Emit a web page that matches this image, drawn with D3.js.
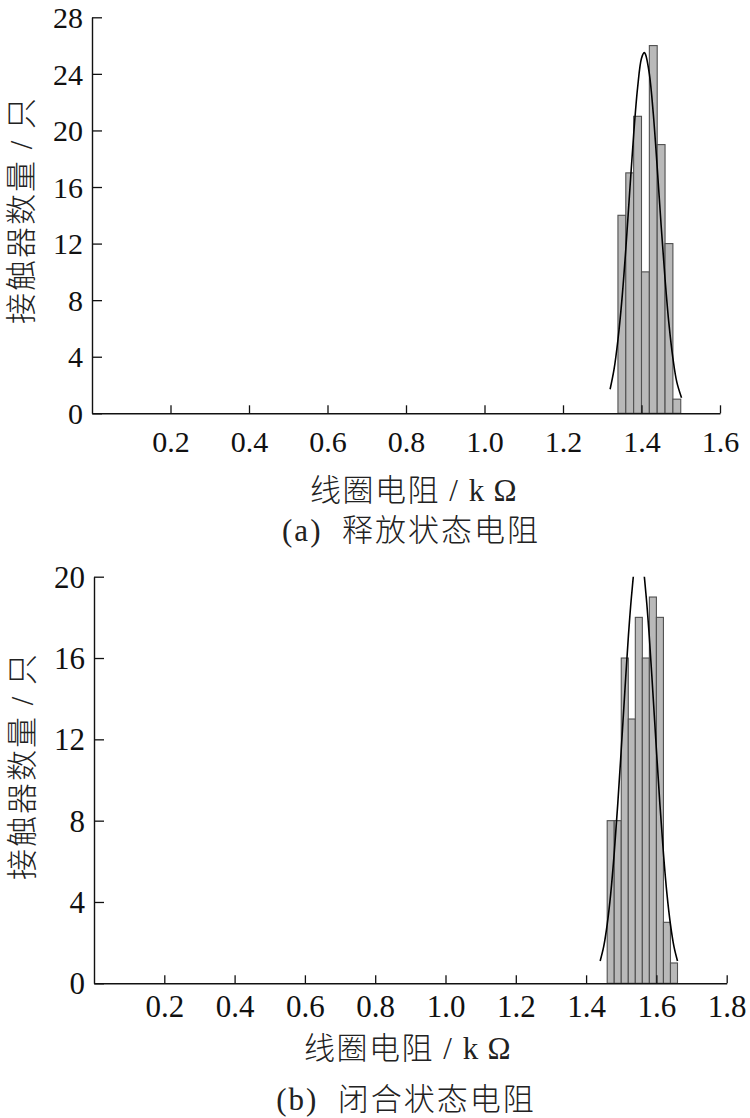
<!DOCTYPE html>
<html>
<head>
<meta charset="utf-8">
<script src="https://cdn.jsdelivr.net/npm/d3@7"></script>
<style>
  body { margin: 0; background: #fff; }
  svg { display: block; }
</style>
</head>
<body>
<svg id="chart" width="750" height="1118"></svg>
<script>
// ---------------- DATA ----------------
// (a) release-state resistance histogram
const binEdgesA = [1.34, 1.36, 1.38, 1.40, 1.42, 1.44, 1.46, 1.48, 1.50];
const countsA   = [14, 17, 21, 10, 26, 19, 12, 1];
const fitXA = [1.32, 1.33, 1.34, 1.35, 1.36, 1.37, 1.38, 1.39, 1.40, 1.407, 1.41, 1.42, 1.43, 1.44, 1.45, 1.46, 1.47, 1.48, 1.49, 1.502];
const fitYA = [1.7, 3.1, 5.2, 8.0, 11.6, 15.7, 19.7, 23.0, 25.1, 25.5, 25.4, 24.0, 21.2, 17.4, 13.3, 9.5, 6.3, 3.9, 2.2, 1.1];
const xTicksA = [0.2, 0.4, 0.6, 0.8, 1.0, 1.2, 1.4, 1.6];
const yTicksA = [0, 4, 8, 12, 16, 20, 24, 28];

// (b) closed-state resistance histogram
const binEdgesB = [1.46, 1.48, 1.50, 1.52, 1.54, 1.56, 1.58, 1.60, 1.62, 1.64, 1.66];
const countsB   = [8, 8, 16, 13, 18, 16, 19, 18, 3, 1];
const fitXB = [1.44, 1.45, 1.46, 1.47, 1.48, 1.49, 1.50, 1.51, 1.52, 1.53, 1.54, 1.55, 1.56, 1.57, 1.58, 1.59, 1.60, 1.61, 1.62, 1.63, 1.64, 1.65, 1.66];
const fitYB = [1.1, 1.8, 2.9, 4.4, 6.4, 8.8, 11.5, 14.3, 17.0, 19.2, 20.7, 21.2, 20.7, 19.2, 17.0, 14.3, 11.5, 8.8, 6.4, 4.4, 2.9, 1.8, 1.1];
const xTicksB = [0.2, 0.4, 0.6, 0.8, 1.0, 1.2, 1.4, 1.6, 1.8];
const yTicksB = [0, 4, 8, 12, 16, 20];

const yLabel = "接触器数量 / 只";
const xLabel = "线圈电阻 / k\u2009Ω";
const captionA = "(a)  释放状态电阻";
const captionB = "(b)  闭合状态电阻";

// ---------------- LAYOUT ----------------
const svg = d3.select("#chart");
svg.append("rect").attr("width", 750).attr("height", 1118).attr("fill", "#fff");

const FONT = "'Liberation Serif','Times New Roman','Noto Sans CJK SC',serif";
const CJK = "'Liberation Serif','Noto Sans CJK SC',sans-serif";

function panel(cfg) {
  const x = d3.scaleLinear().domain(cfg.xDomain).range([cfg.left, cfg.right]);
  const y = d3.scaleLinear().domain(cfg.yDomain).range([cfg.bottom, cfg.top]);
  const g = svg.append("g");

  const clipId = "clip" + cfg.id;
  g.append("clipPath").attr("id", clipId)
    .append("rect")
    .attr("x", cfg.left).attr("y", cfg.top)
    .attr("width", cfg.right - cfg.left + 20)
    .attr("height", cfg.bottom - cfg.top);

  // bars
  const bins = cfg.counts.map((c, i) => ({x0: cfg.edges[i], x1: cfg.edges[i + 1], c}));
  g.append("g").selectAll("rect").data(bins).join("rect")
    .attr("x", d => x(d.x0))
    .attr("y", d => y(d.c))
    .attr("width", d => x(d.x1) - x(d.x0))
    .attr("height", d => y(0) - y(d.c))
    .attr("fill", "#b9b9b9")
    .attr("stroke", "#505050")
    .attr("stroke-width", 1.1);

  // fitted curve
  const pts = cfg.fitX.map((v, i) => [v, cfg.fitY[i]]);
  g.append("path")
    .attr("clip-path", `url(#${clipId})`)
    .attr("d", d3.line().x(d => x(d[0])).y(d => y(d[1])).curve(d3.curveCatmullRom)(pts))
    .attr("fill", "none")
    .attr("stroke", "#000")
    .attr("stroke-width", 1.6);

  // x axis
  const xa = g.append("g").attr("transform", `translate(0,${cfg.bottom})`)
    .call(d3.axisBottom(x).tickValues(cfg.xTicks).tickSizeInner(-8).tickSizeOuter(0)
      .tickFormat(d3.format(".1f")));
  xa.select(".domain").attr("stroke", "#111").attr("stroke-width", 1.4);
  xa.selectAll(".tick line").attr("stroke", "#111").attr("stroke-width", 1.3);
  xa.selectAll(".tick text")
    .attr("y", cfg.xLabelOffset).attr("dy", 0)
    .attr("fill", "#111")
    .style("font-family", FONT).style("font-size", cfg.tickFont + "px");

  // y axis
  const ya = g.append("g").attr("transform", `translate(${cfg.left},0)`)
    .call(d3.axisLeft(y).tickValues(cfg.yTicks).tickSizeInner(-10).tickSizeOuter(0).tickPadding(9));
  ya.select(".domain").attr("stroke", "#111").attr("stroke-width", 1.4);
  ya.selectAll(".tick line").attr("stroke", "#111").attr("stroke-width", 1.3);
  ya.selectAll(".tick text")
    .attr("x", -9).attr("dy", "0.34em")
    .attr("fill", "#111")
    .style("font-family", FONT).style("font-size", cfg.tickFont + "px");

  // y label
  g.append("text")
    .attr("transform", `translate(${cfg.yLabelX},${cfg.yLabelY}) rotate(-90)`)
    .attr("text-anchor", "middle")
    .attr("dominant-baseline", "central")
    .attr("fill", "#222")
    .style("font-family", CJK).style("font-size", "31px")
    .style("font-weight", 300)
    .style("letter-spacing", "2px")
    .text(yLabel);

  // x label
  g.append("text")
    .attr("x", cfg.xTitleX).attr("y", cfg.xTitleY)
    .attr("text-anchor", "middle")
    .attr("fill", "#222")
    .style("font-family", CJK).style("font-size", "31px")
    .style("font-weight", 300)
    .style("letter-spacing", "1.5px")
    .style("white-space", "pre")
    .text(xLabel);

  // caption
  g.append("text")
    .attr("x", cfg.capX).attr("y", cfg.capY)
    .attr("text-anchor", "middle")
    .attr("fill", "#222")
    .style("font-family", CJK).style("font-size", "31px")
    .style("font-weight", 300)
    .style("letter-spacing", "2px")
    .style("white-space", "pre")
    .text(cfg.caption);
}

panel({
  id: "a",
  xDomain: [0, 1.6], yDomain: [0, 28],
  left: 92, right: 720, top: 17.3, bottom: 413.3,
  edges: binEdgesA, counts: countsA, fitX: fitXA, fitY: fitYA,
  xTicks: xTicksA, yTicks: yTicksA,
  tickFont: 30, xLabelOffset: 39,
  yLabelX: 21, yLabelY: 210,
  xTitleX: 414, xTitleY: 501,
  capX: 411, capY: 541,
  caption: captionA
});

panel({
  id: "b",
  xDomain: [0, 1.8], yDomain: [0, 20],
  left: 94, right: 726.7, top: 576.7, bottom: 983.3,
  edges: binEdgesB, counts: countsB, fitX: fitXB, fitY: fitYB,
  xTicks: xTicksB, yTicks: yTicksB,
  tickFont: 31, xLabelOffset: 33.5,
  yLabelX: 22.5, yLabelY: 766,
  xTitleX: 408, xTitleY: 1059,
  capX: 406, capY: 1110,
  caption: captionB
});
</script>
</body>
</html>
